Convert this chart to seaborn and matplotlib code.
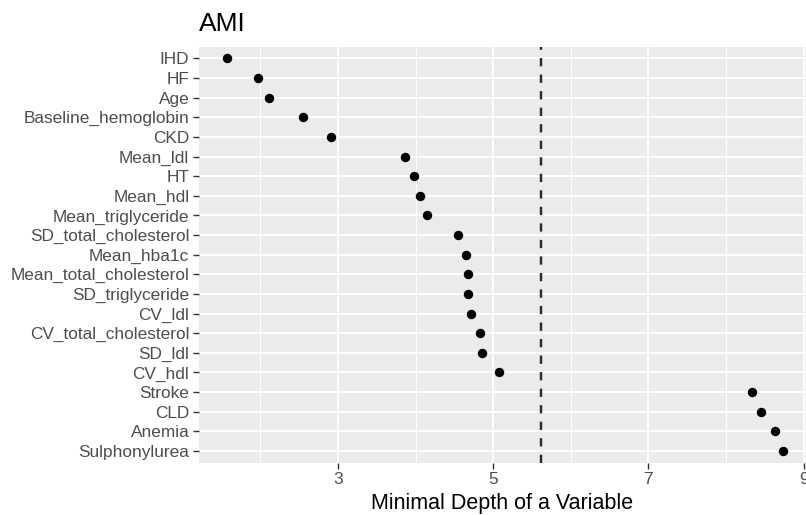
import matplotlib
matplotlib.use("Agg")
import matplotlib.pyplot as plt
import seaborn as sns
import pandas as pd

variables = ["IHD", "HF", "Age", "Baseline_hemoglobin", "CKD", "Mean_ldl", "HT",
             "Mean_hdl", "Mean_triglyceride", "SD_total_cholesterol", "Mean_hba1c",
             "Mean_total_cholesterol", "SD_triglyceride", "CV_ldl",
             "CV_total_cholesterol", "SD_ldl", "CV_hdl", "Stroke", "CLD", "Anemia",
             "Sulphonylurea"]
min_depth = [1.567, 1.974, 2.112, 2.549, 2.914, 3.863, 3.974, 4.052, 4.142, 4.549,
             4.656, 4.672, 4.677, 4.718, 4.831, 4.856, 5.077, 8.328, 8.446, 8.636,
             8.733]
threshold = 5.62
x_ticks = [3, 5, 7, 9]
x_minor = [2, 4, 6, 8]

df = pd.DataFrame({"variable": variables, "depth": min_depth})

sns.set_style("white")
plt.rcParams["font.family"] = ["Liberation Sans", "DejaVu Sans"]

fig = plt.figure(figsize=(8.06, 5.15), dpi=100)
top_px, bot_px, left_px = 46.7, 462.7, 199
ax = fig.add_axes([left_px / 806, 1 - bot_px / 515, (806 - left_px) / 806,
                   (bot_px - top_px) / 515])
ax.set_facecolor("#EBEBEB")

n = len(variables)
# grid
for v in x_minor:
    ax.axvline(v, color="white", lw=0.7, zorder=0)
for v in x_ticks:
    ax.axvline(v, color="white", lw=1.35, zorder=0)
for i in range(n):
    ax.axhline(i, color="white", lw=1.35, zorder=0)

sns.stripplot(data=df, x="depth", y="variable", order=variables, jitter=False,
              color="black", size=6.8, linewidth=0, ax=ax, zorder=3)
ax.axvline(threshold, color="#2b2b2b", lw=1.75, ls=(0, (3.4, 3.4)), zorder=2)

ax.set_xlim(1.21, 9.03)
ax.set_ylim(n - 1 + 0.6, -0.6)
ax.set_xticks(x_ticks)
ax.set_xticklabels([str(t) for t in x_ticks])
for s in ax.spines.values():
    s.set_visible(False)
ax.tick_params(axis="both", which="major", length=4, width=1.0, color="#333333",
               labelcolor="#4D4D4D", labelsize=12.4, pad=3, left=True, bottom=True)
ax.grid(False)
ax.set_ylabel("")
ax.set_xlabel("Minimal Depth of a Variable", fontsize=15.5, color="black", labelpad=4)
ax.set_title("AMI", loc="left", fontsize=19, color="black", pad=11)

fig.savefig("out.png", dpi=100)
